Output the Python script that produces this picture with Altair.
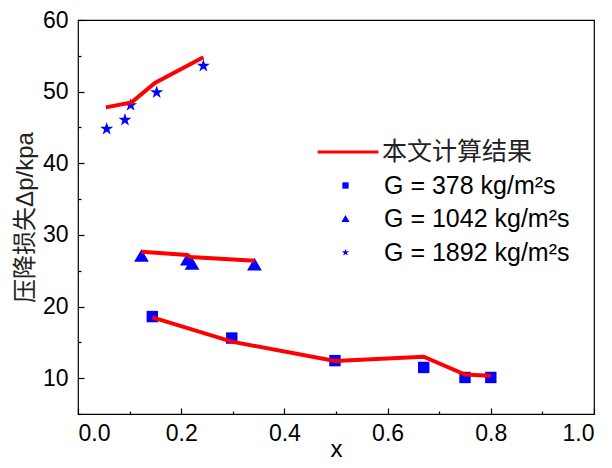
import altair as alt
import pandas as pd

# ---- data ----
series_labels = ["G = 378 kg/m²s", "G = 1042 kg/m²s", "G = 1892 kg/m²s"]
line_label = "本文计算结果"

# measured points
x378 = [0.144, 0.298, 0.498, 0.670, 0.750, 0.800]
p378 = [18.6, 15.6, 12.45, 11.5, 10.1, 10.1]
x1042 = [0.123, 0.212, 0.221, 0.342]
p1042 = [27.0, 26.5, 25.9, 25.8]
x1892 = [0.0556, 0.091, 0.102, 0.1525, 0.243]
p1892 = [44.8, 46.05, 48.1, 49.9, 53.6]

# calculated curves
xl378 = [0.144, 0.298, 0.498, 0.670, 0.750, 0.800]
c378 = [18.5, 15.1, 12.4, 13.0, 10.5, 10.35]
xl1042 = [0.123, 0.212, 0.218, 0.342]
c1042 = [27.65, 27.2, 26.9, 26.4]
xl1892 = [0.054, 0.104, 0.149, 0.243]
c1892 = [47.8, 48.5, 51.2, 54.8]

x_major = [0.0, 0.2, 0.4, 0.6, 0.8, 1.0]
x_minor = [0.1, 0.3, 0.5, 0.7, 0.9]
y_major = [10, 20, 30, 40, 50, 60]
y_minor = [5, 15, 25, 35, 45, 55]

pts = pd.DataFrame({
    "x": x378 + x1042 + x1892,
    "y": p378 + p1042 + p1892,
    "series": [series_labels[0]] * len(x378) + [series_labels[1]] * len(x1042) + [series_labels[2]] * len(x1892),
})
lines = pd.DataFrame({
    "x": xl378 + xl1042 + xl1892,
    "y": c378 + c1042 + c1892,
    "series": [series_labels[0]] * len(xl378) + [series_labels[1]] * len(xl1042) + [series_labels[2]] * len(xl1892),
    "calc": [line_label] * (len(xl378) + len(xl1042) + len(xl1892)),
})
lines["order"] = range(len(lines))

SQUARE = "M-1,-1H1V1H-1Z"
TRIANGLE = "M0,-1.25L1.3,0.95L-1.3,0.95Z"
STAR = ("M0,-1.2L0.27,-0.37L1.14,-0.37L0.44,0.14L0.71,0.97L0,0.46"
        "L-0.71,0.97L-0.44,0.14L-1.14,-0.37L-0.27,-0.37Z")

FONT = "Liberation Sans, Arial, Noto Sans CJK SC"
xs = alt.Scale(domain=[0, 1], nice=False)
ys = alt.Scale(domain=[5, 60], nice=False)

x_axis_major = alt.Axis(orient="bottom", values=x_major, format=".1f", tickSize=6, offset=-6, domain=False, grid=False,
                        labelPadding=8, labelFontSize=23, labelFont=FONT, labelColor="black",
                        tickColor="black", tickWidth=1.2, title="x", titleFontSize=24, titleFont=FONT,
                        titleFontWeight="normal", titleColor="black", titlePadding=-8, zindex=2)
y_axis_major = alt.Axis(orient="left", values=y_major, format="d", tickSize=6, offset=-6, domain=False, grid=False,
                        labelPadding=10, labelFontSize=23, labelFont=FONT, labelColor="black",
                        tickColor="black", tickWidth=1.2, title="压降损失Δp/kpa", titleFontSize=24,
                        titleFont=FONT, titleFontWeight="normal", titleColor="#222222", titlePadding=5, zindex=2)
x_axis_minor = alt.Axis(orient="bottom", values=x_minor, labels=False, tickSize=3, offset=-3, domain=False, grid=False,
                        tickColor="black", tickWidth=1.2, title=None, zindex=2)
y_axis_minor = alt.Axis(orient="left", values=y_minor, labels=False, tickSize=3, offset=-3, domain=False, grid=False,
                        tickColor="black", tickWidth=1.2, title=None, zindex=2)

points = alt.Chart(pts).mark_point(filled=True, size=130, opacity=1).encode(
    x=alt.X("x:Q", scale=xs, axis=x_axis_major),
    y=alt.Y("y:Q", scale=ys, axis=y_axis_major),
    color=alt.value("#0000ff"),
    shape=alt.Shape("series:N", scale=alt.Scale(domain=series_labels, range=[SQUARE, TRIANGLE, STAR]),
                    legend=alt.Legend(title=None, orient="none", legendX=255, legendY=153, padding=0,
                                      symbolSize=40, symbolFillColor="#0000ff", symbolStrokeColor="#0000ff",
                                      labelFontSize=25, labelFont=FONT, labelColor="black", labelOffset=26,
                                      rowPadding=7.5, labelLimit=400)),
)

curve = alt.Chart(lines).mark_line(strokeWidth=4).encode(
    x=alt.X("x:Q", scale=xs, axis=x_axis_minor),
    y=alt.Y("y:Q", scale=ys, axis=y_axis_minor),
    detail="series:N",
    order="order:Q",
    color=alt.Color("calc:N", scale=alt.Scale(domain=[line_label], range=["#ff0000"]),
                    legend=alt.Legend(title=None, orient="none", legendX=238, legendY=100, padding=0,
                                      symbolType="stroke", symbolSize=3700, symbolStrokeWidth=3,
                                      labelFontSize=25, labelFont=FONT, labelColor="#222222",
                                      labelOffset=2, labelLimit=400)),
)

chart = alt.layer(points, curve).resolve_axis(x="independent", y="independent").resolve_legend(
    shape="independent", color="independent"
).properties(
    width=516, height=394,
    autosize=alt.AutoSizeParams(type="none"),
    padding={"left": 70, "top": 12, "right": 10, "bottom": 46},
    background="white",
).configure_view(stroke="black", strokeWidth=1.2)

chart.save("out.html", embed_options={"renderer": "svg", "actions": False})
